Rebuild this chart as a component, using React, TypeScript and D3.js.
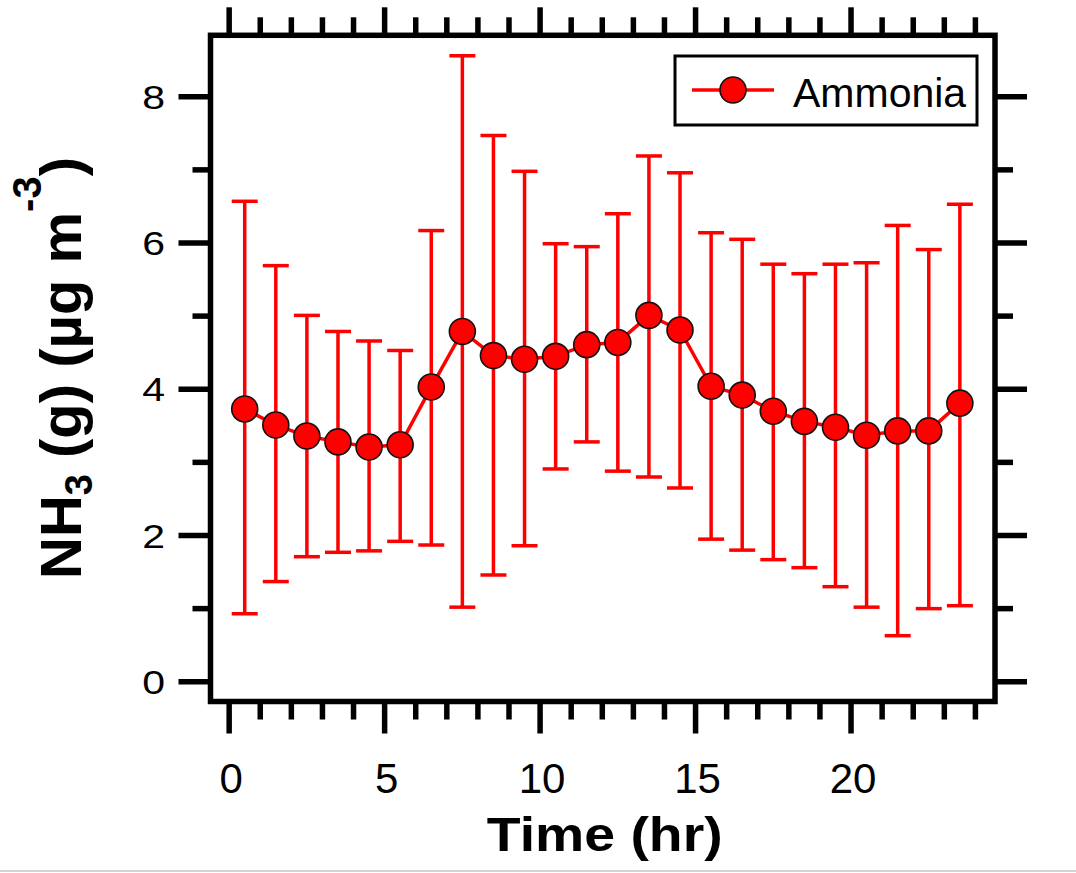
import React, { useEffect, useRef } from 'react';
import { select, scaleLinear, line, range } from 'd3';

// hourly means and error bar limits for NH3 (g), ug m-3
const hours = [0.5, 1.5, 2.5, 3.5, 4.5, 5.5, 6.5, 7.5, 8.5, 9.5, 10.5, 11.5,
  12.5, 13.5, 14.5, 15.5, 16.5, 17.5, 18.5, 19.5, 20.5, 21.5, 22.5, 23.5];
const ammonia = [3.73, 3.51, 3.36, 3.28, 3.21, 3.24, 4.03, 4.79, 4.46, 4.41, 4.45, 4.61,
  4.64, 5.01, 4.81, 4.04, 3.92, 3.70, 3.56, 3.48, 3.37, 3.43, 3.43, 3.81];
const upper = [6.57, 5.69, 5.01, 4.79, 4.66, 4.53, 6.17, 8.56, 7.47, 6.98, 5.99, 5.95,
  6.40, 7.19, 6.96, 6.14, 6.05, 5.71, 5.58, 5.71, 5.73, 6.24, 5.91, 6.53];
const lower = [0.93, 1.37, 1.71, 1.77, 1.79, 1.92, 1.87, 1.02, 1.46, 1.86, 2.91, 3.28,
  2.88, 2.80, 2.65, 1.95, 1.80, 1.67, 1.56, 1.30, 1.02, 0.63, 1.00, 1.04];

const xTicks = [0, 5, 10, 15, 20];
const yTicks = [0, 2, 4, 6, 8];
const legendLabel = 'Ammonia';

const RED = '#ff0000';

const drawChart = (node: SVGSVGElement) => {
  const svg = select(node);
  svg.selectAll('*').remove();

  const frame = { left: 210.5, right: 995, top: 35.3, bottom: 701.5 };
  const x = scaleLinear().domain([-0.6, 24.63]).range([frame.left, frame.right]);
  const y = scaleLinear().domain([-0.27, 8.84]).range([frame.bottom, frame.top]);

  svg.append('rect').attr('width', 1076).attr('height', 873).attr('fill', '#fff');
  svg.append('line')
    .attr('x1', 0).attr('x2', 1076).attr('y1', 871).attr('y2', 871)
    .attr('stroke', '#d4d4d4').attr('stroke-width', 2);

  // ticks, all pointing outward on the four sides
  const tk = svg.append('g').attr('stroke', '#000').attr('stroke-width', 5.5);
  const xt = range(0, 25);
  xt.forEach(h => {
    const len = h % 5 === 0 ? 32 : 18;
    tk.append('line').attr('x1', x(h)).attr('x2', x(h))
      .attr('y1', frame.bottom).attr('y2', frame.bottom + len);
    tk.append('line').attr('x1', x(h)).attr('x2', x(h))
      .attr('y1', frame.top).attr('y2', frame.top - (h % 5 === 0 ? 28 : 18));
  });
  range(0, 9).forEach(v => {
    const len = v % 2 === 0 ? 32 : 18;
    tk.append('line').attr('y1', y(v)).attr('y2', y(v))
      .attr('x1', frame.left).attr('x2', frame.left - len);
    tk.append('line').attr('y1', y(v)).attr('y2', y(v))
      .attr('x1', frame.right).attr('x2', frame.right + len);
  });

  svg.append('rect')
    .attr('x', frame.left).attr('y', frame.top)
    .attr('width', frame.right - frame.left).attr('height', frame.bottom - frame.top)
    .attr('fill', 'none').attr('stroke', '#000').attr('stroke-width', 5.5);

  // tick labels
  const font = 'Liberation Sans, Arial, sans-serif';
  svg.append('g').selectAll('text').data(xTicks).enter().append('text')
    .attr('x', d => x(d) + 2).attr('y', 793)
    .attr('text-anchor', 'middle')
    .attr('font-family', font).attr('font-size', 42)
    .text(d => d);
  svg.append('g').selectAll('text').data(yTicks).enter().append('text')
    .attr('transform', d => `translate(165,${y(d)}) scale(1,0.82)`)
    .attr('dy', '0.36em')
    .attr('text-anchor', 'end')
    .attr('font-family', font).attr('font-size', 41)
    .text(d => d);

  // axis titles
  svg.append('text')
    .attr('transform', `translate(${(frame.left + frame.right) / 2 + 2},851) scale(1.13,1)`)
    .attr('text-anchor', 'middle')
    .attr('font-family', font).attr('font-size', 49).attr('font-weight', 'bold')
    .text('Time (hr)');

  const yt = svg.append('text')
    .attr('transform', 'translate(81,368) rotate(-90)')
    .attr('text-anchor', 'middle')
    .attr('font-family', font).attr('font-size', 58).attr('font-weight', 'bold');
  yt.append('tspan').text('NH');
  yt.append('tspan').attr('font-size', 38).attr('dy', 11).text('3');
  yt.append('tspan').attr('dy', -11).text(' (g) (µg m');
  yt.append('tspan').attr('font-size', 40).attr('dy', -40).text('-3');
  yt.append('tspan').attr('dy', 40).text(')');

  // error bars
  const eb = svg.append('g').attr('stroke', RED).attr('stroke-width', 3.5);
  hours.forEach((h, i) => {
    eb.append('line').attr('x1', x(h)).attr('x2', x(h))
      .attr('y1', y(upper[i])).attr('y2', y(lower[i]));
    [upper[i], lower[i]].forEach(v => {
      eb.append('line').attr('x1', x(h) - 13).attr('x2', x(h) + 13)
        .attr('y1', y(v)).attr('y2', y(v));
    });
  });

  const path = line<number>().x((d, i) => x(hours[i])).y(d => y(d));
  svg.append('path')
    .attr('d', path(ammonia))
    .attr('fill', 'none').attr('stroke', RED).attr('stroke-width', 3.5);

  svg.append('g').selectAll('circle').data(ammonia).enter().append('circle')
    .attr('cx', (d, i) => x(hours[i])).attr('cy', d => y(d)).attr('r', 13)
    .attr('fill', RED).attr('stroke', '#111').attr('stroke-width', 1.6);

  // legend
  const lg = svg.append('g');
  lg.append('rect').attr('x', 675).attr('y', 56).attr('width', 302).attr('height', 69)
    .attr('fill', '#fff').attr('stroke', '#000').attr('stroke-width', 3);
  lg.append('line').attr('x1', 692).attr('x2', 774).attr('y1', 90).attr('y2', 90)
    .attr('stroke', RED).attr('stroke-width', 3.5);
  lg.append('circle').attr('cx', 733).attr('cy', 90).attr('r', 13)
    .attr('fill', RED).attr('stroke', '#111').attr('stroke-width', 1.6);
  lg.append('text').attr('x', 793).attr('y', 107)
    .attr('font-family', font).attr('font-size', 41)
    .text(legendLabel);
};

const App = () => {
  const ref = useRef<SVGSVGElement>(null);

  useEffect(() => {
    if (ref.current) drawChart(ref.current);
  }, []);

  return (
    <svg ref={ref} width={1076} height={873}
      style={{ position: 'absolute', left: 0, top: 0, display: 'block' }} />
  );
};

export default App;
